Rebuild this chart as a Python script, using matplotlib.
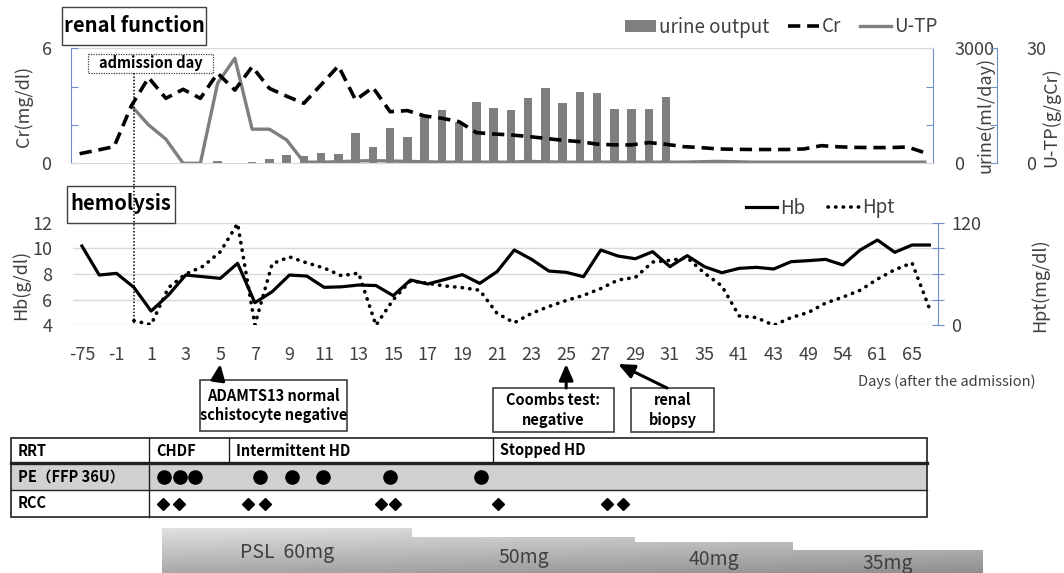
import numpy as np
import matplotlib
matplotlib.use("Agg")
import matplotlib.pyplot as plt
from matplotlib.lines import Line2D
from matplotlib.patches import Patch, Rectangle, Polygon

plt.rcParams['font.family'] = ['Noto Sans CJK JP', 'DejaVu Sans']

nan = np.nan

# category axis (days after admission); only every other one is labelled
days = [-75, -7, -1, 0] + list(range(1, 32)) + [33, 35, 38, 41, 42, 43, 46, 49, 51, 54, 57, 61, 63, 65, 68]

cr = [0.50, 0.68, 0.87, 3.00, 4.47, 3.39, 3.86, 3.39, 4.70, 3.82,
      5.04, 3.91, 3.50, 3.13, 4.10, 5.08, 3.30, 3.96, 2.69, 2.75,
      2.47, 2.35, 2.17, 1.60, 1.53, 1.48, 1.40, 1.30, 1.20, 1.13,
      1.00, 0.96, 0.96, 1.08, 0.99, 0.87, 0.82, 0.75, 0.73, 0.72,
      0.72, 0.72, 0.75, 0.92, 0.86, 0.83, 0.82, 0.82, 0.85, 0.55]

utp = [nan, nan, nan, 15.0, 10.0, 6.3, 0.0, 0.0, 20.9, 27.4,
       8.9, 8.9, 6.1, 0.3, 0.3, 0.4, 0.6, 0.7, 0.6, 0.5,
       0.4, 0.3, 0.3, 0.3, 0.3, 0.3, 0.5, 0.4, 0.3, 0.3,
       0.3, 0.3, 0.3, 0.3, 0.3, 0.3, 0.4, 0.5, 0.4, 0.3,
       0.3, 0.3, 0.3, 0.3, 0.3, 0.3, 0.3, 0.3, 0.3, 0.3]

urine = [nan, nan, nan, 8, 8, 8, 0, 0, 50, 10,
         30, 110, 217, 200, 276, 235, 782, 433, 913, 694,
         1234, 1390, 1085, 1607, 1450, 1390, 1700, 1957, 1565, 1870,
         1843, 1409, 1409, 1409, 1739] + [nan] * 15

hb = [10.18, 7.92, 8.05, 6.96, 5.11, 6.36, 7.92, 7.79, 7.66, 8.83,
      5.76, 6.62, 7.92, 7.84, 6.96, 7.00, 7.14, 7.10, 6.31, 7.53,
      7.22, 7.58, 7.95, 7.27, 8.18, 9.87, 9.14, 8.23, 8.13, 7.79,
      9.87, 9.40, 9.19, 9.74, 8.57, 9.43, 8.57, 8.10, 8.44, 8.52,
      8.39, 8.96, 9.04, 9.14, 8.70, 9.87, 10.65, 9.69, 10.26, 10.26]

hpt = [nan, nan, nan, 5.4, 0.8, 44, 60, 69, 86, 119,
       0.5, 72, 80, 73, 67, 58, 61, 0, 30, 52,
       49, 46, 44, 41, 14, 3, 14, 22, 29, 35,
       43, 53, 56, 74, 76, 79, 61, 46, 11, 9,
       0, 9, 15, 26, 33, 41, 54, 65, 73, 20]

# treatment schedule, in positions on the day axis (category index)
pe_pos = [4.75, 5.67, 6.54, 10.27, 12.13, 13.93, 17.83, 23.08]
rcc_pos = [4.66, 5.61, 9.63, 10.57, 17.27, 18.08, 24.06, 30.34, 31.28]
psl_edges = [4.64, 19.1, 32.0, 41.1, 52.1]
psl_labels = ['PSL  60mg', '50mg', '40mg', '35mg']

W, H = 1064, 573
BLUE = '#6F8FC9'
GRID = '#D9D9D9'
TXT = '#404040'
BAR = '#7F7F7F'


def box_px(x0, y0, x1, y1):
    # pixel box (y down) -> figure fraction
    return [x0 / W, 1 - y1 / H, (x1 - x0) / W, (y1 - y0) / H]


fig = plt.figure(figsize=(W / 100, H / 100), dpi=100)
x = np.arange(len(days))

# ---------------- renal function ----------------
ax_cr = fig.add_axes(box_px(71, 48.3, 933.5, 163.3))
ax_u = ax_cr.twinx()
ax_p = ax_cr.twinx()
for a in (ax_cr, ax_u, ax_p):
    a.set_xlim(-0.5, len(days) - 0.5)
    for s in a.spines.values():
        s.set_visible(False)
ax_u.set_zorder(1)
ax_p.set_zorder(2)
ax_cr.set_zorder(3)
ax_cr.patch.set_visible(False)
ax_p.patch.set_visible(False)
ax_u.patch.set_visible(False)

ax_u.bar(x, urine, width=0.48, color=BAR)
ax_p.plot(x, utp, color=BAR, lw=2.4)
ax_cr.plot(x, cr, color='black', lw=2.6, ls=(0, (3.4, 1.9)))
ax_cr.set_ylim(0, 6)
ax_u.set_ylim(0, 3000)
ax_p.set_ylim(0, 30)
ax_cr.axhline(6, color=GRID, lw=1, zorder=0)
ax_cr.spines['bottom'].set_visible(True)
ax_cr.spines['bottom'].set_color(GRID)
ax_cr.spines['left'].set_visible(True)
ax_cr.spines['left'].set_color(BLUE)
ax_u.spines['right'].set_visible(True)
ax_u.spines['right'].set_color(BLUE)
ax_p.spines['right'].set_visible(True)
ax_p.spines['right'].set_color(BLUE)
ax_p.spines['right'].set_position(('axes', (997 - 71) / (933.5 - 71)))

ax_cr.set_xticks([])
ax_cr.set_yticks([0, 2, 4, 6])
ax_cr.set_yticklabels(['0', '', '', '6'])
ax_cr.tick_params(axis='y', direction='in', length=5, color=BLUE, labelsize=13, labelcolor=TXT, pad=14)
ax_u.set_yticks([0, 1000, 2000, 3000])
ax_u.set_yticklabels(['0', '', '', '3000'])
ax_u.tick_params(axis='y', direction='in', length=5, color=BLUE, labelsize=13, labelcolor=TXT, pad=15)
ax_p.set_yticks([0, 10, 20, 30])
ax_p.set_yticklabels(['0', '', '', '30'])
ax_p.tick_params(axis='y', direction='in', length=5, color=BLUE, labelsize=13, labelcolor=TXT, pad=21)

# ---------------- hemolysis ----------------
ax_hb = fig.add_axes(box_px(73.3, 222.7, 938, 325.3))
ax_hpt = ax_hb.twinx()
for a in (ax_hb, ax_hpt):
    a.set_xlim(-0.5, len(days) - 0.5)
    for s in a.spines.values():
        s.set_visible(False)
ax_hb.plot(x, hb, color='black', lw=2.3)
ax_hpt.plot(x, hpt, color='black', lw=2.6, ls=(0, (0.1, 2.0)), dash_capstyle='round')
ax_hb.set_ylim(4, 12)
ax_hpt.set_ylim(0, 120)
ax_hb.set_yticks(range(4, 13, 2))
ax_hb.grid(axis='y', color=GRID, lw=1)
ax_hb.set_axisbelow(True)
ax_hb.tick_params(axis='y', length=0, labelsize=13, labelcolor=TXT, pad=15)
ax_hb.set_xticks(x[::2])
ax_hb.set_xticklabels([str(d) for d in days[::2]])
ax_hb.tick_params(axis='x', length=0, labelsize=13, labelcolor=TXT, pad=15)
ax_hpt.spines['right'].set_visible(True)
ax_hpt.spines['right'].set_color(BLUE)
ax_hpt.set_yticks([0, 30, 60, 90, 120])
ax_hpt.set_yticklabels(['0', '', '', '', '120'])
ax_hpt.tick_params(axis='y', direction='inout', length=9, color=BLUE, labelsize=13, labelcolor=TXT, pad=5)

# axis titles
fig.text(24 / W, 1 - 106 / H, 'Cr(mg/dl)', rotation=90, ha='center', va='center', fontsize=13, color=TXT)
fig.text(21 / W, 1 - 285 / H, 'Hb(g/dl)', rotation=90, ha='center', va='center', fontsize=13, color=TXT)
fig.text(985 / W, 1 - 115 / H, 'urine(ml/day)', rotation=90, ha='center', va='center', fontsize=13, color=TXT)
fig.text(1051 / W, 1 - 117 / H, 'U-TP(g/gCr)', rotation=90, ha='center', va='center', fontsize=13, color=TXT)
fig.text(1040 / W, 1 - 285 / H, 'Hpt(mg/dl)', rotation=90, ha='center', va='center', fontsize=13, color=TXT)
fig.text(858 / W, 1 - 382 / H, 'Days (after the admission)', ha='left', va='center', fontsize=10.5, color=TXT)

# legends
top_handles = [Patch(facecolor=BAR, edgecolor='none'),
               Line2D([], [], color='black', lw=2.6, ls=(0, (3.4, 1.9))),
               Line2D([], [], color=BAR, lw=2.4)]
fig.legend(top_handles, ['urine output', 'Cr', 'U-TP'], loc='center right',
           bbox_to_anchor=(937 / W, 1 - 27 / H), ncol=3, frameon=False, fontsize=13.5,
           handlelength=1.65, handleheight=0.65, handletextpad=0.15, columnspacing=1.0,
           borderpad=0, borderaxespad=0, labelcolor=TXT)
bot_handles = [Line2D([], [], color='black', lw=2.3),
               Line2D([], [], color='black', lw=2.6, ls=(0, (0.1, 2.0)), dash_capstyle='round')]
fig.legend(bot_handles, ['Hb', 'Hpt'], loc='center right',
           bbox_to_anchor=(894 / W, 1 - 208 / H), ncol=2, frameon=False, fontsize=13.5,
           handlelength=1.65, handletextpad=0.15, columnspacing=1.2,
           borderpad=0, borderaxespad=0, labelcolor=TXT)

# ---------------- overlay (pixel coordinates) ----------------
ov = fig.add_axes([0, 0, 1, 1])
ov.set_zorder(10)
ov.patch.set_visible(False)
ov.axis('off')


def col_px(pos):
    pos = np.atleast_1d(np.asarray(pos, dtype=float))
    disp = ax_hb.transData.transform(np.column_stack([pos, np.full(len(pos), 4.0)]))
    return ov.transData.inverted().transform(disp)[:, 0]


ov.set_xlim(0, W)
ov.set_ylim(H, 0)

# panel titles
ov.add_patch(Rectangle((62, 7), 144, 38, fill=False, edgecolor=TXT, lw=1))
ov.text(134, 25.5, 'renal function', ha='center', va='center', fontsize=14.5, fontweight='bold', color='black')
ov.add_patch(Rectangle((67, 186), 108, 37, fill=False, edgecolor=TXT, lw=1))
ov.text(121, 204, 'hemolysis', ha='center', va='center', fontsize=14.5, fontweight='bold', color='black')

# admission day marker
adm = col_px(days.index(0))[0]
ov.plot([adm, adm], [73, 325], color='black', lw=1.1, ls=(0, (1, 1.2)))
ov.add_patch(Rectangle((88, 54), 125, 19, fill=False, edgecolor=TXT, lw=0.9, ls=(0, (1, 1))))
ov.text(150.5, 63, 'admission day', ha='center', va='center', fontsize=10.5, fontweight='bold', color='black')

# annotation boxes with arrows
notes = [
    ('ADAMTS13 normal\nschistocyte negative', (200, 380, 347, 431), 5, 218),
    ('Coombs test:\nnegative', (493, 388, 614, 432), 25, None),
    ('renal\nbiopsy', (631, 388, 714, 432), 28, 667),
]
for text, (bx0, by0, bx1, by1), day, start in notes:
    ov.add_patch(Rectangle((bx0, by0), bx1 - bx0, by1 - by0, fill=False, edgecolor=TXT, lw=1.2))
    ov.text((bx0 + bx1) / 2, (by0 + by1) / 2, text, ha='center', va='center', fontsize=10.5,
            fontweight='bold', linespacing=1.25, color='black')
    tip = col_px(days.index(day))[0]
    sx = tip if start is None else start
    ov.annotate('', xy=(tip, 364), xytext=(sx, by0),
                arrowprops=dict(arrowstyle='-|>,head_length=0.8,head_width=0.35', lw=2.2,
                                color='black', shrinkA=0, shrinkB=0, mutation_scale=12))

# treatment table
ty = [438, 463, 490, 517]
tx0, tx1, tcol = 11, 927, 149
ov.add_patch(Rectangle((tx0, ty[1]), tx1 - tx0, ty[2] - ty[1], facecolor='#D0D0D0', edgecolor='none'))
ov.add_patch(Rectangle((tx0, ty[0]), tx1 - tx0, ty[3] - ty[0], fill=False, edgecolor='#202020', lw=1.2))
ov.plot([tx0, tx1], [ty[1], ty[1]], color='#202020', lw=2.4)
ov.plot([tx0, tx1], [ty[2], ty[2]], color='#202020', lw=1.0)
ov.plot([tcol, tcol], [ty[0], ty[3]], color='#202020', lw=1.0)
for xd in (228.5, 493):
    ov.plot([xd, xd], [ty[0], ty[1]], color='#202020', lw=1.0)
row_mid = [(ty[i] + ty[i + 1]) / 2 for i in range(3)]
for lab, ym in zip(['RRT', 'PE（FFP 36U）', 'RCC'], row_mid):
    ov.text(18, ym, lab, ha='left', va='center', fontsize=10.5, fontweight='bold', color='black')
for lab, xt in zip(['CHDF', 'Intermittent HD', 'Stopped HD'], [156, 236, 500]):
    ov.text(xt, row_mid[0], lab, ha='left', va='center', fontsize=10.5, fontweight='bold', color='black')
ov.plot(col_px(pe_pos), [row_mid[1]] * len(pe_pos), 'o', color='black', ms=9.5, ls='none')
ov.plot(col_px(rcc_pos), [row_mid[2]] * len(rcc_pos), 'D', color='black', ms=6.3, ls='none')

# PSL taper, stepped gradient block
ex = col_px(psl_edges)
tops = [528, 537, 542, 550]
verts = [(ex[0], H)]
for i, t in enumerate(tops):
    verts += [(ex[i], t), (ex[i + 1], t)]
verts += [(ex[-1], H)]
shape = Polygon(verts, closed=True, facecolor='none', edgecolor='none', transform=ov.transData)
ov.add_patch(shape)
U, T = np.meshgrid(np.linspace(0, 1, 256), np.linspace(0, 1, 64))
img = ov.imshow(0.88 - 0.10 * U - 0.22 * T, cmap='gray', vmin=0, vmax=1,
                extent=(ex[0], ex[-1], H, min(tops)), aspect='auto', interpolation='bilinear')
img.set_clip_path(shape)
for i, lab in enumerate(psl_labels):
    ov.text((ex[i] + ex[i + 1]) / 2, (tops[i] + H) / 2 + 2, lab, ha='center', va='center',
            fontsize=14, color=TXT)

ov.set_xlim(0, W)
ov.set_ylim(H, 0)

fig.savefig('out.png', dpi=100)
